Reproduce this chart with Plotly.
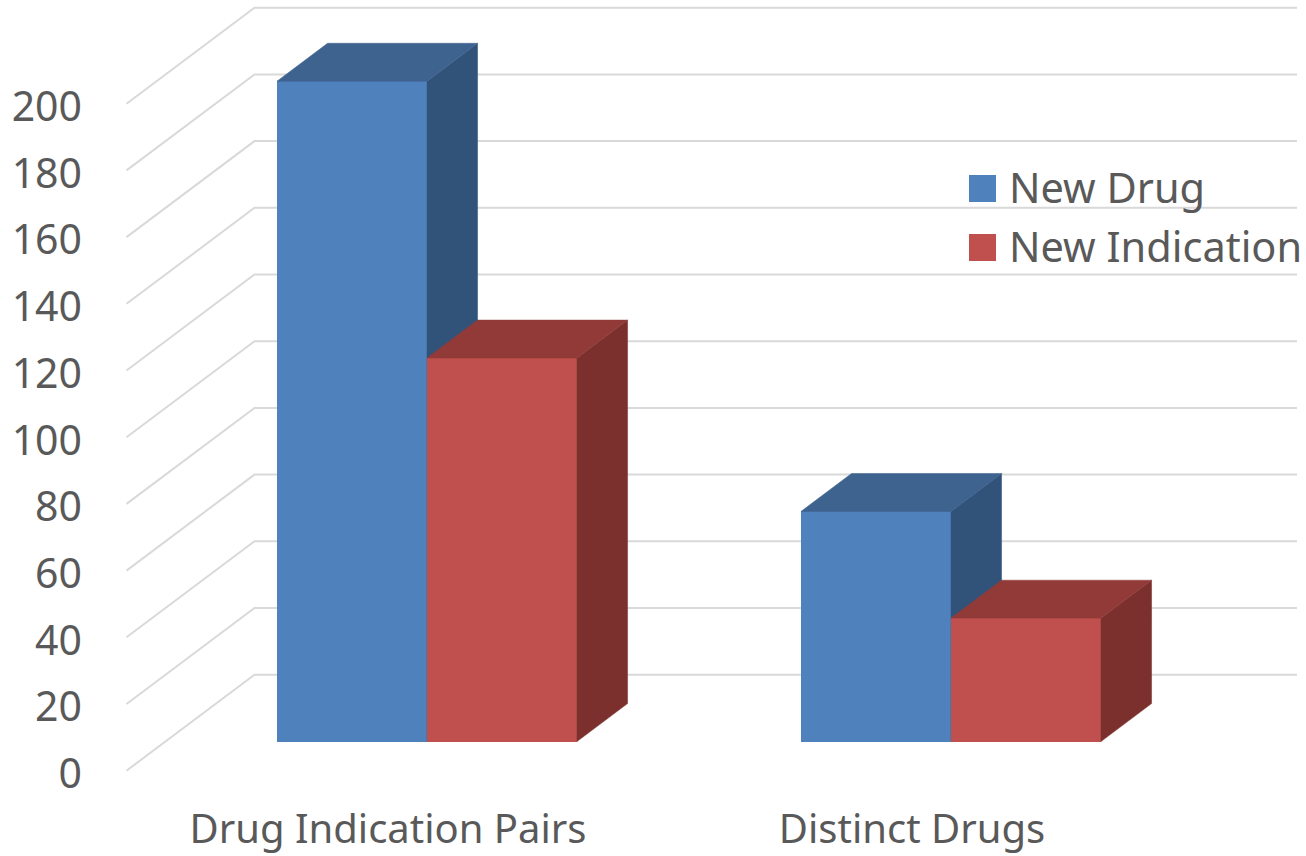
import plotly.graph_objects as go

# Chart data
categories = ["Drug Indication Pairs", "Distinct Drugs"]
new_drug = [198, 69]
new_indication = [115, 37]
tick_values = list(range(0, 201, 20))

# Canvas and plot area, in pixels
W, H = 1306, 856
PLOT_L, PLOT_B = 83, 801

# Linear scales of the chart, expressed as pixel anchors
PX_PER_CAT = 524.0
CAT0_PX = 427.0
PX_PER_VAL = 3.335
VAL0_PY = 770.7

def cat_from_px(px):
    return (px - CAT0_PX) / PX_PER_CAT

def val_from_py(py):
    return (VAL0_PY - py) / PX_PER_VAL

# Oblique projection: one full unit of depth moves right and up
DEPTH_X = 128.0 / PX_PER_CAT
DEPTH_V = 96.0 / PX_PER_VAL
BAR_FRONT = 0.304     # depth of a bar's front face
BAR_DEPTH = 0.395     # depth extent of a bar
BAR_W = 150.0 / PX_PER_CAT
WALL_X = cat_from_px(126.5)
BACK_RIGHT = cat_from_px(1297)
LABEL_SHIFT = -39.0 / PX_PER_CAT

FONT = "'Noto Sans', 'Open Sans', sans-serif"
FONT_SIZE = 41
CATEGORY_SIZE = 40
LEGEND_SIZE = 41.5
TEXT = "#595959"
GRID = "#d9d9d9"
BLUE = dict(front="#4f81bd", top="#3e638f", side="#325379")
RED = dict(front="#c0504d", top="#913a38", side="#7b302e")

x_range = [cat_from_px(PLOT_L), cat_from_px(W)]
y_range = [val_from_py(PLOT_B), val_from_py(0)]

fig = go.Figure()

# Gridlines: along the side wall, then across the back wall
for v in tick_values:
    fig.add_trace(go.Scatter(
        x=[WALL_X, WALL_X + DEPTH_X, BACK_RIGHT],
        y=[v, v + DEPTH_V, v + DEPTH_V],
        mode="lines", line=dict(color=GRID, width=2),
        hoverinfo="skip", showlegend=False,
    ))

def add_series(values, offset, colors, name, xa, ya):
    floor = BAR_FRONT * DEPTH_V
    dx = BAR_DEPTH * DEPTH_X
    dv = BAR_DEPTH * DEPTH_V
    centers = [i + offset for i in range(len(values))]
    fig.add_trace(go.Bar(
        x=centers, y=values, base=floor, width=BAR_W, name=name,
        marker=dict(color=colors["front"], line=dict(width=0)),
        xaxis=xa, yaxis=ya, showlegend=False,
    ))
    for c, v in zip(centers, values):
        l, r, t = c - BAR_W / 2, c + BAR_W / 2, floor + v
        fig.add_trace(go.Scatter(
            x=[r, r + dx, r + dx, r, r], y=[floor, floor + dv, t + dv, t, floor],
            fill="toself", fillcolor=colors["side"], mode="lines",
            line=dict(color=colors["side"], width=0.5),
            hoverinfo="skip", showlegend=False, xaxis=xa, yaxis=ya,
        ))
        fig.add_trace(go.Scatter(
            x=[l, r, r + dx, l + dx, l], y=[t, t, t + dv, t + dv, t],
            fill="toself", fillcolor=colors["top"], mode="lines",
            line=dict(color=colors["top"], width=0.5),
            hoverinfo="skip", showlegend=False, xaxis=xa, yaxis=ya,
        ))

# Each series gets its own overlaid axes, so bars paint above the gridlines
# and the second series paints over the first one's side faces
add_series(new_drug, -BAR_W / 2, BLUE, "New Drug", "x2", "y2")
add_series(new_indication, BAR_W / 2, RED, "New Indication", "x3", "y3")

# Legend keys and labels
shapes, annotations = [], []
for name, color, y0 in (("New Drug", BLUE["front"], 175), ("New Indication", RED["front"], 234)):
    shapes.append(dict(
        type="rect", xref="x", yref="y", layer="above",
        x0=cat_from_px(969), x1=cat_from_px(996),
        y0=val_from_py(y0), y1=val_from_py(y0 + 27),
        fillcolor=color, line=dict(width=0),
    ))
    annotations.append(dict(
        text=name, xref="x", yref="y", showarrow=False,
        x=cat_from_px(1007), y=val_from_py(y0 + 11.5),
        xanchor="left", yanchor="middle",
        font=dict(family=FONT, size=LEGEND_SIZE, color=TEXT),
    ))

fig.update_layout(
    width=W, height=H,
    margin=dict(l=PLOT_L, r=0, t=0, b=H - PLOT_B, pad=0, autoexpand=False),
    paper_bgcolor="white", plot_bgcolor="white",
    barmode="overlay", showlegend=False, bargap=0,
    shapes=shapes, annotations=annotations,
    font=dict(family=FONT, size=FONT_SIZE, color=TEXT),
    xaxis=dict(
        range=x_range, showgrid=False, zeroline=False, showline=False, ticks="",
        tickvals=[i + LABEL_SHIFT for i in range(len(categories))],
        ticktext=categories, tickfont=dict(family=FONT, size=CATEGORY_SIZE, color=TEXT),
        ticklabelstandoff=1, automargin=False,
    ),
    yaxis=dict(
        range=y_range, showgrid=False, zeroline=False, showline=False, ticks="",
        tickvals=tick_values, ticktext=[str(v) for v in tick_values],
        tickfont=dict(family=FONT, size=FONT_SIZE, color=TEXT),
        ticklabelshift=3, automargin=False,
    ),
    xaxis2=dict(range=x_range, overlaying="x", visible=False),
    yaxis2=dict(range=y_range, overlaying="y", visible=False),
    xaxis3=dict(range=x_range, overlaying="x", visible=False),
    yaxis3=dict(range=y_range, overlaying="y", visible=False),
)

fig.write_html("out.html", config=dict(displayModeBar=False))
